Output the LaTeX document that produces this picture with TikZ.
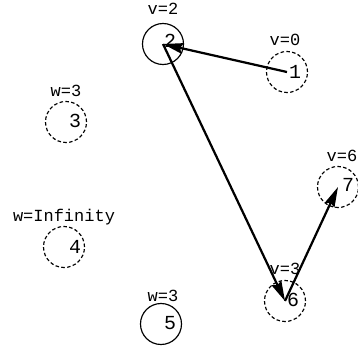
\documentclass[tikz,border=0pt]{standalone}
\usepackage{fontspec}
\setmonofont{Liberation Mono}
\usetikzlibrary{arrows.meta}

\tikzset{
  vert/.style={circle,draw,line width=1pt,inner sep=0pt,minimum size=35pt},
  plain/.style={vert,solid},
  broken/.style={vert,densely dashed},
  tag/.style={font=\ttfamily\fontsize{14.5}{16}\selectfont,inner sep=1pt},
  num/.style={font=\ttfamily\fontsize{17}{19}\selectfont,inner sep=0pt},
  path/.style={->,line width=1.9pt}
}

\begin{document}
\begin{tikzpicture}[x=0.03cm,y=-0.03cm,line width=1pt,>={Stealth[length=17pt,width=9pt,inset=2pt]}]
  \useasboundingbox (0,0) rectangle (358,351);

  % vertices: name/x/y/style/digit x/digit y/label x/label y/label
  \foreach \n/\x/\y/\sty/\dx/\dy/\lx/\ly/\lab in {
    1/287/72/broken/295/72/285/40/v=0,
    2/163/44/plain/170/41/163/9/v=2,
    3/66/122/broken/75/121/66/91/w=3,
    4/64/247/broken/75/247/64/217/w=Infinity,
    5/161/324/plain/170/323/163/296/w=3,
    6/285/301/broken/293/300/285/269/v=3,
    7/338/187/broken/348/185/342/156/v=6}
  {
    \node[\sty] (n\n) at (\x,\y) {};
    \node[num] (d\n) at (\dx,\dy) {\n};
    \node[tag] (l\n) at (\lx,\ly) {\lab};
  }

  % shortest path
  \draw[path] (n1.center) -- (n2.center);
  \draw[path] (n2.center) -- (n6.center);
  \draw[path] (n6.center) -- (n7.center);
\end{tikzpicture}
\end{document}
